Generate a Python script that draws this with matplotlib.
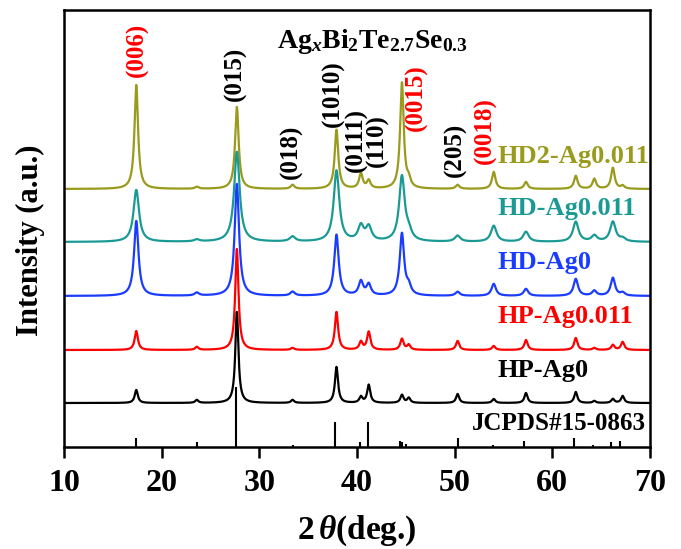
import numpy as np
import matplotlib
matplotlib.use("Agg")
import matplotlib.pyplot as plt

plt.rcParams['font.family'] = ['Liberation Serif', 'DejaVu Serif']
plt.rcParams['font.weight'] = 'bold'
plt.rcParams['mathtext.fontset'] = 'custom'
plt.rcParams['mathtext.rm'] = 'Liberation Serif:bold'
plt.rcParams['mathtext.it'] = 'Liberation Serif:italic'
plt.rcParams['mathtext.bf'] = 'Liberation Serif:bold'

# peak positions (2theta, deg.) shared by all patterns
peak_pos = [17.4, 23.6, 27.7, 33.4, 37.9, 40.4, 41.2, 44.6, 45.3,
            50.3, 54.0, 57.3, 62.4, 64.3, 66.2, 67.2]

samples = ["HD2-Ag0.011", "HD-Ag0.011", "HD-Ag0", "HP-Ag0.011", "HP-Ag0"]
colors = ["#9a9a1c", "#1b9a95", "#1a3cff", "#ff0000", "#000000"]
offsets = [258, 205, 151, 97, 44]

# peak heights (a.u.)
h_hd2 = [104, 2, 82, 4, 59, 15, 8, 106, 7, 4, 17, 7, 13, 10, 21, 3]
h_hd = [52, 2, 90, 5, 71, 15, 14, 65, 8, 6, 16, 10, 20, 6, 20, 3]
h_hd0 = [75, 3, 112, 4, 61, 14, 11, 62, 8, 4, 12, 7, 17, 5, 18, 3]
h_hp = [19, 3, 101, 2, 38, 8, 18, 11, 5, 9, 4, 10, 12, 2, 5, 8]
h_hp0 = [13, 3, 91, 3, 36, 6, 18, 8, 5, 9, 4, 10, 11, 2, 4, 7]
heights = [h_hd2, h_hd, h_hd0, h_hp, h_hp0]
widths = [0.22, 0.34, 0.27, 0.2, 0.19]

# JCPDS#15-0863 reference lines
stick_pos = [17.4, 23.6, 27.6, 33.4, 37.7, 40.3, 41.1, 44.4, 44.6, 45.0,
             50.3, 53.9, 57.1, 62.2, 64.2, 66.0, 66.9]
stick_h = [9, 5, 60, 2, 25, 5, 25, 6, 5, 3, 9, 2, 6, 9, 2, 5, 6]

# Miller indices: label, position, bottom of text, colour
hkl = [("(006)", 17.5, 370, "red"), ("(015)", 27.5, 346, "black"),
       ("(018)", 33.3, 268, "black"), ("(1010)", 37.6, 320, "black"),
       ("(0111)", 39.9, 275, "black"), ("(110)", 42.1, 280, "black"),
       ("(0015)", 46.1, 316, "red"), ("(205)", 50.1, 270, "black"),
       ("(0018)", 53.1, 283, "red")]

x = np.arange(10, 70.001, 0.02)

fig = plt.figure(figsize=(6.81, 5.49), dpi=100)
ax = fig.add_axes([64 / 681, 1 - 447 / 549, 586 / 681, 437 / 549])

ax.vlines(stick_pos, 0, stick_h, color="black", lw=1.5)

for name, c, off, hs, w in zip(samples, colors, offsets, heights, widths):
    y = np.full_like(x, off, dtype=float)
    for p, h in zip(peak_pos, hs):
        y += h / (1 + ((x - p) / w) ** 2)
    ax.plot(x, y, color=c, lw=1.6)
    ax.text(54.4, off + 33, name, color=c, fontsize=19, ha="left", va="center")

ax.text(69.6, 23, "JCPDS#15-0863", color="black", fontsize=18,
        ha="right", va="center")

for lab, px, py, c in hkl:
    ax.text(px, py, lab, rotation=90, color=c, fontsize=18,
            ha="center", va="bottom")

ax.text(41.6, 406, r"$\mathrm{Ag}_{x}\mathrm{Bi}_{2}\mathrm{Te}_{2.7}\mathrm{Se}_{0.3}$",
        fontsize=20, ha="center", va="center")

ax.set_xlim(10, 70)
ax.set_ylim(0, 437)
ax.set_xticks([10, 20, 30, 40, 50, 60, 70])
ax.set_yticks([])
ax.tick_params(axis="x", direction="out", length=8, width=1.8,
               labelsize=23, pad=8)
for s in ax.spines.values():
    s.set_linewidth(1.8)

fig.text(357 / 681, 1 - 531 / 549, r"2$\,\theta$(deg.)", fontsize=24,
         fontweight="bold", ha="center", va="center")
fig.text(30 / 681, 1 - 240 / 549, "Intensity (a.u.)", rotation=90,
         fontsize=22, ha="center", va="center")

fig.savefig("out.png", dpi=100)
